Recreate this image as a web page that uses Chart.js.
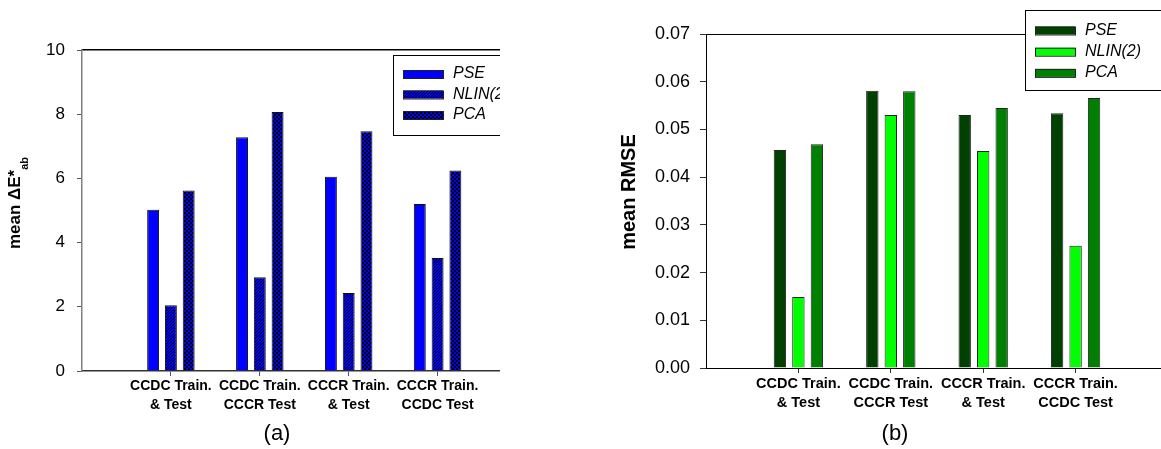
<!DOCTYPE html>
<html>
<head>
<meta charset="utf-8">
<script src="https://cdn.jsdelivr.net/npm/chart.js@4/dist/chart.umd.min.js"></script>
<style>
  html, body { margin: 0; padding: 0; background: #fff; width: 1161px; height: 449px; overflow: hidden; }
  #panelA { position: absolute; left: 0; top: 0; width: 500px; height: 449px; overflow: hidden; }
  #panelB { position: absolute; left: 500px; top: 0; width: 661px; height: 449px; overflow: hidden; }
  canvas { display: block; }
</style>
</head>
<body>
<div id="panelA"><canvas id="chartA" width="540" height="449"></canvas></div>
<div id="panelB"><canvas id="chartB" width="680" height="449"></canvas></div>
<script>
// Training / test configurations on the x axis (two-line labels)
const categories = [
  ['CCDC Train.', '& Test'],
  ['CCDC Train.', 'CCCR Test'],
  ['CCCR Train.', '& Test'],
  ['CCCR Train.', 'CCDC Test']
];
const methods = ['PSE', 'NLIN(2)', 'PCA'];

// Panel (a): mean colour difference ΔE*ab
const deltaE_PSE  = [5.02, 7.28, 6.05, 5.20];
const deltaE_NLIN = [2.05, 2.92, 2.43, 3.52];
const deltaE_PCA  = [5.62, 8.07, 7.47, 6.25];
const deltaETicks = [0, 2, 4, 6, 8, 10];

// Panel (b): mean spectral RMSE
const rmse_PSE  = [0.0457, 0.0581, 0.0530, 0.0534];
const rmse_NLIN = [0.0149, 0.0530, 0.0455, 0.0256];
const rmse_PCA  = [0.0469, 0.0580, 0.0545, 0.0566];
const rmseTicks = [0, 0.01, 0.02, 0.03, 0.04, 0.05, 0.06, 0.07];

const FONT = "'Liberation Sans', Arial, sans-serif";

// Fill patterns for the blue panel: diagonal hatch and fine checker
function makePattern(kind) {
  const size = kind === 'diag' ? 3 : 4;
  const c = document.createElement('canvas');
  c.width = size; c.height = size;
  const g = c.getContext('2d');
  g.fillStyle = '#0000ff';
  g.fillRect(0, 0, size, size);
  g.fillStyle = '#000000';
  for (let y = 0; y < size; y++) {
    for (let x = 0; x < size; x++) {
      if (kind === 'diag' && x + y === size - 1) g.fillRect(x, y, 1, 1);
      if (kind === 'check' && (Math.floor(x / 2) + Math.floor(y / 2)) % 2 === 0) g.fillRect(x, y, 1, 1);
    }
  }
  return g.createPattern(c, 'repeat');
}

function toPoints(values) {
  return values.map((v, i) => ({ x: i + 1, y: v }));
}

// Axis title, caption and boxed legend drawn on top of each panel
const panelDecor = {
  id: 'panelDecor',
  afterDraw(chart, args, opts) {
    const ctx = chart.ctx;
    const area = chart.chartArea;
    ctx.save();
    ctx.fillStyle = '#000';

    // rotated y-axis title (optional subscript)
    const t = opts.yTitle;
    ctx.font = 'bold ' + t.size + 'px ' + FONT;
    const wMain = ctx.measureText(t.text).width;
    let wSub = 0;
    if (t.sub) {
      ctx.font = 'bold ' + t.subSize + 'px ' + FONT;
      wSub = ctx.measureText(t.sub).width;
    }
    ctx.translate(t.x, t.y);
    ctx.rotate(-Math.PI / 2);
    ctx.textBaseline = 'alphabetic';
    ctx.textAlign = 'left';
    ctx.font = 'bold ' + t.size + 'px ' + FONT;
    ctx.fillText(t.text, -(wMain + wSub) / 2, 0);
    if (t.sub) {
      ctx.font = 'bold ' + t.subSize + 'px ' + FONT;
      ctx.fillText(t.sub, -(wMain + wSub) / 2 + wMain, t.subShift);
    }
    ctx.setTransform(1, 0, 0, 1, 0, 0);

    // panel caption
    const c = opts.caption;
    ctx.font = c.size + 'px ' + FONT;
    ctx.textAlign = 'center';
    ctx.fillText(c.text, c.x, c.y);

    // legend box
    const L = opts.legend;
    const bx = area.left + L.dx, by = area.top + L.dy;
    ctx.fillStyle = '#fff';
    ctx.fillRect(bx, by, L.w, L.h);
    ctx.strokeStyle = '#000';
    ctx.lineWidth = 1;
    ctx.strokeRect(bx + 0.5, by + 0.5, L.w, L.h);
    ctx.textAlign = 'left';
    ctx.textBaseline = 'middle';
    ctx.font = 'italic ' + L.size + 'px ' + FONT;
    chart.data.datasets.forEach((ds, i) => {
      const cy = by + L.first + i * L.row;
      const sx = bx + 10;
      ctx.fillStyle = ds.backgroundColor;
      ctx.fillRect(sx, cy - 4, 40, 8);
      ctx.strokeStyle = '#222';
      ctx.strokeRect(sx + 0.5, cy - 4 + 0.5, 40, 8);
      ctx.fillStyle = '#000';
      ctx.fillText(ds.label, sx + 50, cy);
    });
    ctx.restore();
  }
};

function buildChart(canvasId, cfg) {
  const datasets = cfg.series.map((vals, i) => ({
    label: methods[i],
    data: toPoints(vals),
    backgroundColor: cfg.fills[i],
    borderColor: cfg.barBorder,
    borderWidth: 1,
    categoryPercentage: 0.6,
    barPercentage: 0.67,
    xAxisID: 'x',
    yAxisID: 'y'
  }));

  return new Chart(document.getElementById(canvasId), {
    type: 'bar',
    data: { datasets },
    options: {
      responsive: false,
      animation: false,
      devicePixelRatio: 1,
      layout: { padding: cfg.padding },
      plugins: {
        legend: { display: false },
        tooltip: { enabled: false },
        panelDecor: cfg.decor
      },
      scales: {
        x: {
          type: 'linear',
          position: 'bottom',
          min: 0,
          max: 5,
          offset: false,
          afterBuildTicks: s => { s.ticks = categories.map((c, i) => ({ value: i + 1 })); },
          afterFit: s => { s.height = cfg.xHeight; },
          ticks: {
            callback: v => categories[v - 1],
            color: '#000',
            padding: 1,
            maxRotation: 0,
            autoSkip: false,
            font: { family: FONT, size: cfg.xTickSize, weight: 'bold', lineHeight: 1.32 }
          },
          grid: { display: true, drawOnChartArea: false, drawTicks: true, tickLength: 5, color: cfg.tickColor, offset: false },
          border: { display: true, color: cfg.bottomColor, width: cfg.axisWidth }
        },
        xTop: {
          type: 'linear',
          position: 'top',
          min: 0,
          max: 5,
          display: true,
          afterFit: s => { s.height = 0; },
          ticks: { display: false },
          grid: { display: false },
          border: { display: true, color: '#000', width: cfg.axisWidth }
        },
        y: {
          type: 'linear',
          min: cfg.yTicks[0],
          max: cfg.yTicks[cfg.yTicks.length - 1],
          afterBuildTicks: s => { s.ticks = cfg.yTicks.map(v => ({ value: v })); },
          afterFit: s => { s.width = cfg.yWidth; },
          ticks: {
            callback: cfg.yFormat,
            color: '#000',
            padding: cfg.yPad,
            font: { family: FONT, size: cfg.yTickSize }
          },
          grid: { display: true, drawOnChartArea: false, drawTicks: true, tickLength: cfg.yTickLen, color: cfg.tickColor },
          border: { display: true, color: cfg.leftColor, width: cfg.axisWidth }
        }
      }
    },
    plugins: [panelDecor]
  });
}

const nlinFill = makePattern('diag');
const pcaFill = makePattern('check');

buildChart('chartA', {
  series: [deltaE_PSE, deltaE_NLIN, deltaE_PCA],
  fills: ['#0000ff', nlinFill, pcaFill],
  barBorder: '#111',
  padding: { left: 0, top: 50, right: 13.5, bottom: 0 },
  xHeight: 78,
  xTickSize: 14,
  yWidth: 82,
  yTicks: deltaETicks,
  yFormat: v => String(v),
  yPad: 12,
  yTickLen: 5,
  yTickSize: 17,
  tickColor: '#555',
  bottomColor: '#333',
  leftColor: '#808080',
  axisWidth: 1.5,
  decor: {
    yTitle: { text: 'mean \u0394E*', sub: 'ab', size: 17, subSize: 11, subShift: 8, x: 20, y: 203 },
    caption: { text: '(a)', size: 22, x: 277, y: 440 },
    legend: { dx: 311, dy: 5, w: 140, h: 80, first: 19, row: 20.5, size: 16 }
  }
});

buildChart('chartB', {
  series: [rmse_PSE, rmse_NLIN, rmse_PCA],
  fills: ['#004000', '#00ff00', '#008000'],
  barBorder: '#222',
  padding: { left: 0, top: 34, right: 12, bottom: 0 },
  xHeight: 81,
  xTickSize: 14.5,
  yWidth: 206,
  yTicks: rmseTicks,
  yFormat: v => v.toFixed(2),
  yPad: 10,
  yTickLen: 6,
  yTickSize: 18,
  tickColor: '#333',
  bottomColor: '#000',
  leftColor: '#000',
  axisWidth: 1,
  decor: {
    yTitle: { text: 'mean RMSE', size: 20, x: 135, y: 192 },
    caption: { text: '(b)', size: 22, x: 395, y: 440 },
    legend: { dx: 319, dy: -24, w: 160, h: 80, first: 20.5, row: 21.2, size: 16 }
  }
});
</script>
</body>
</html>
